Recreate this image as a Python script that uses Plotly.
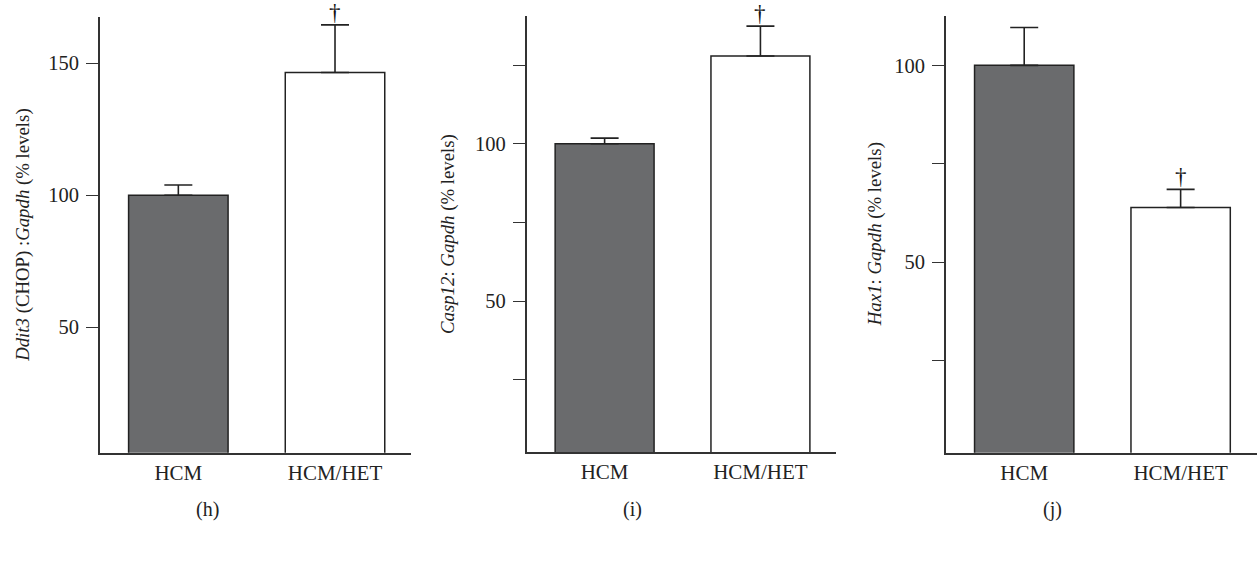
import plotly.graph_objects as go

# Groups shown on every panel
groups = ["HCM", "HCM/HET"]

# Relative mRNA levels (% of HCM) and upper SEM for each panel
ddit3_values = [100, 146.5]
ddit3_sem = [3.9, 18.0]

casp12_values = [100, 127.9]
casp12_sem = [1.8, 9.5]

hax1_values = [100, 63.9]
hax1_sem = [9.6, 4.6]

# Significance markers per group
marks_h = ["", "†"]
marks_i = ["", "†"]
marks_j = ["", "†"]

# Axis ticks for each panel
ticks_h = [50, 100, 150]
ticklabels_h = ["50", "100", "150"]
ticks_i = [25, 50, 75, 100, 125]
ticklabels_i = ["", "50", "", "100", ""]
ticks_j = [25, 50, 75, 100]
ticklabels_j = ["", "50", "", "100"]

ytitles = [
    "<i>Ddit3</i> (CHOP) :<i>Gapdh</i> (% levels)",
    "<i>Casp12</i>: <i>Gapdh</i> (% levels)",
    "<i>Hax1</i>: <i>Gapdh</i> (% levels)",
]
panel_tags = ["(h)", "(i)", "(j)"]

W, H = 1257, 569
FONT = "Liberation Serif"
INK = "#222222"
bar_fills = ["#6a6b6d", "#ffffff"]

panels = [
    dict(vals=ddit3_values, err=ddit3_sem, marks=marks_h, ticks=ticks_h, tlab=ticklabels_h,
         yr=[2.5, 167.5], px=(100, 411), py=(17, 452.7), title_x=23, tag_x=207),
    dict(vals=casp12_values, err=casp12_sem, marks=marks_i, ticks=ticks_i, tlab=ticklabels_i,
         yr=[2.0, 140.7], px=(526.7, 836), py=(15.7, 452.3), title_x=448, tag_x=632),
    dict(vals=hax1_values, err=hax1_sem, marks=marks_j, ticks=ticks_j, tlab=ticklabels_j,
         yr=[1.65, 112.6], px=(946, 1256.5), py=(15.7, 452.7), title_x=875, tag_x=1052),
]

fig = go.Figure()
annotations = []

for k, p in enumerate(panels):
    ax = "" if k == 0 else str(k + 1)
    xref, yref = "x" + ax, "y" + ax
    for i, g in enumerate(groups):
        fig.add_trace(go.Bar(
            x=[i], y=[p["vals"][i]], xaxis=xref, yaxis=yref,
            width=0.635, marker=dict(color=bar_fills[i], line=dict(color=INK, width=1.5)),
            error_y=dict(type="data", symmetric=False, array=[p["err"][i]], arrayminus=[0],
                         color=INK, thickness=1.6, width=14),
            showlegend=False, hoverinfo="skip",
        ))
        if p["marks"][i]:
            annotations.append(dict(
                x=i, y=p["vals"][i] + p["err"][i], xref=xref, yref=yref,
                text=p["marks"][i], showarrow=False, xanchor="center", yanchor="bottom",
                yshift=-2, font=dict(family=FONT, size=23, color="#111111"),
            ))
    x0, x1 = p["px"]
    y0, y1 = p["py"]
    fig.update_layout(**{
        "xaxis" + ax: dict(
            domain=[x0 / W, x1 / W], range=[-0.5, 1.485], anchor=yref,
            tickvals=[0, 1], ticktext=groups, ticks="", showline=True,
            linecolor="#333333", linewidth=1.6, showgrid=False, zeroline=False,
            tickfont=dict(family=FONT, size=21, color=INK), fixedrange=True,
        ),
        "yaxis" + ax: dict(
            domain=[1 - y1 / H, 1 - y0 / H], range=p["yr"], anchor=xref,
            tickvals=p["ticks"], ticktext=p["tlab"], ticks="outside", ticklen=12,
            tickwidth=1.3, tickcolor="#333333", showline=True, linecolor="#333333",
            linewidth=1.6, showgrid=False, zeroline=False, ticklabelstandoff=3,
            tickfont=dict(family=FONT, size=20.5, color=INK), fixedrange=True,
        ),
    })
    annotations.append(dict(
        x=p["title_x"] / W, y=1 - (y0 + y1) / 2 / H, xref="paper", yref="paper",
        xanchor="center", yanchor="middle",
        text=ytitles[k], textangle=-90, showarrow=False,
        font=dict(family=FONT, size=18.8, color=INK),
    ))
    annotations.append(dict(
        x=p["tag_x"] / W, y=1 - 509 / H, xref="paper", yref="paper",
        xanchor="center", yanchor="middle",
        text=panel_tags[k], showarrow=False,
        font=dict(family=FONT, size=20, color=INK),
    ))

fig.update_layout(
    width=W, height=H, margin=dict(l=0, r=0, t=0, b=0),
    paper_bgcolor="white", plot_bgcolor="white",
    barmode="overlay", annotations=annotations,
)

fig.write_html("out.html")
